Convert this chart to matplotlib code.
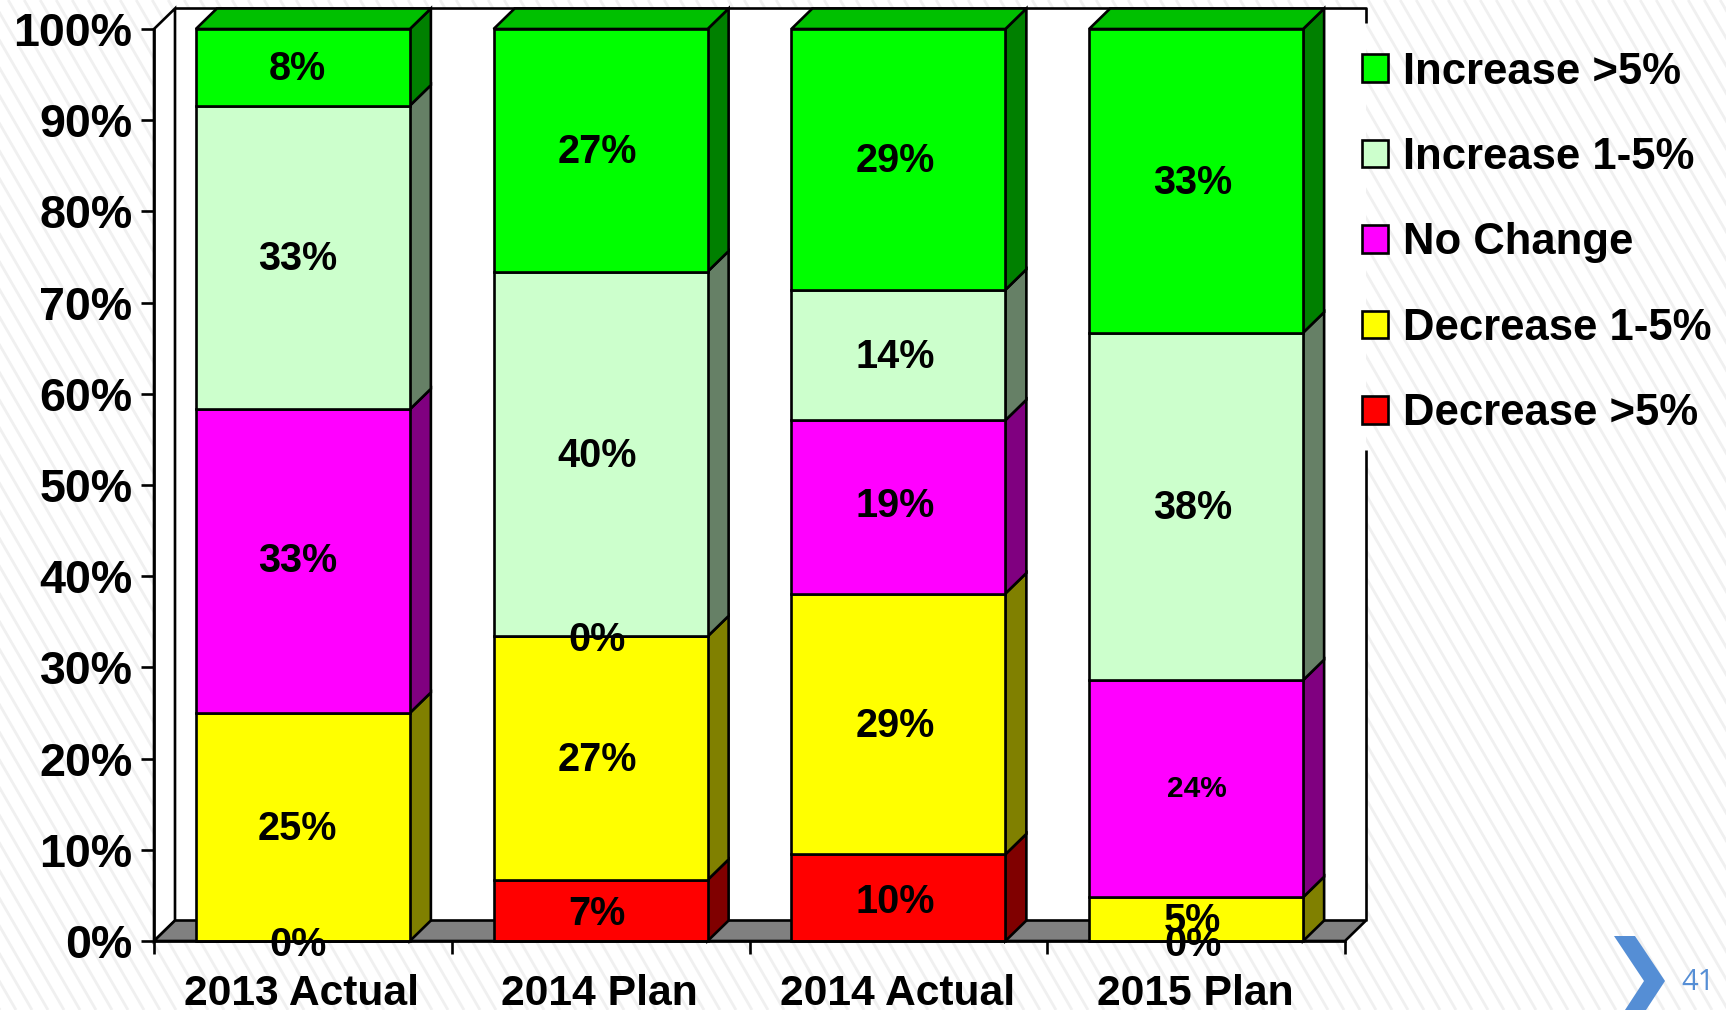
import matplotlib
matplotlib.use("Agg")
import matplotlib.pyplot as plt
from matplotlib.collections import LineCollection
from matplotlib.patches import Polygon

plt.rcParams['font.family'] = ['Liberation Sans', 'DejaVu Sans']
plt.rcParams['font.weight'] = 'bold'

categories = ["2013 Actual", "2014 Plan", "2014 Actual", "2015 Plan"]
series = ["Decrease >5%", "Decrease 1-5%", "No Change", "Increase 1-5%", "Increase >5%"]
dec_big = [0.0, 6.7, 9.5, 0.0]
dec_small = [25.0, 26.7, 28.6, 4.8]
no_change = [33.3, 0.0, 19.0, 23.8]
inc_small = [33.3, 40.0, 14.3, 38.1]
inc_big = [8.4, 26.6, 28.6, 33.3]
labels_dec_big = ["0%", "7%", "10%", "0%"]
labels_dec_small = ["25%", "27%", "29%", "5%"]
labels_no_change = ["33%", "0%", "19%", "24%"]
labels_inc_small = ["33%", "40%", "14%", "38%"]
labels_inc_big = ["8%", "27%", "29%", "33%"]
yticks = [0, 10, 20, 30, 40, 50, 60, 70, 80, 90, 100]

values = [dec_big, dec_small, no_change, inc_small, inc_big]
texts = [labels_dec_big, labels_dec_small, labels_no_change, labels_inc_small, labels_inc_big]
front = ['#FF0000', '#FFFF00', '#FF00FF', '#CCFFCC', '#00FF00']
side = ['#800000', '#808000', '#800080', '#668066', '#008000']
top_green = '#00C000'

W, H = 1726, 1010
L, R, T, B = 154, 1345, 29, 941
fig = plt.figure(figsize=(W / 100, H / 100), dpi=100, facecolor='white')

# Page background with fine diagonal stripes
bg = fig.add_axes([0, 0, 1, 1], zorder=0)
bg.set_axis_off()
bg.set_xlim(0, W)
bg.set_ylim(H, 0)
period, slope = 16.0, 1.73
stripes = []
x_start = -H / slope
while x_start < W:
    stripes.append([(x_start, 0), (x_start + H / slope, H)])
    x_start += period
bg.add_collection(LineCollection(stripes, colors='#f0f0f0', linewidths=2.0))

ax = fig.add_axes([L / W, 1 - B / H, (R - L) / W, (B - T) / H], zorder=1)
ax.patch.set_visible(False)
ax.set_xlim(-0.5, 3.5)
ax.set_ylim(0, 100)
dx = 21 / ((R - L) / 4)
dy = 20.5 / ((B - T) / 100)
barw = 214 / ((R - L) / 4)
lw = 1.9

# Chart walls and floor
ax.add_patch(Polygon([(-0.5 + dx, dy), (3.5 + dx, dy), (3.5 + dx, 100 + dy), (-0.5 + dx, 100 + dy)],
                     closed=True, fc='white', ec='none', clip_on=False, zorder=1))
ax.add_patch(Polygon([(-0.5, 0), (-0.5 + dx, dy), (-0.5 + dx, 100 + dy), (-0.5, 100)],
                     closed=True, fc='white', ec='black', lw=lw, clip_on=False, zorder=1))
ax.add_patch(Polygon([(-0.5, 0), (-0.5 + dx, dy), (3.5 + dx, dy), (3.5, 0)],
                     closed=True, fc='#808080', ec='black', lw=lw, clip_on=False, zorder=1))
ax.plot([-0.5 + dx, 3.5 + dx, 3.5 + dx], [100 + dy, 100 + dy, 98.4 + dy], color='black', lw=lw,
        clip_on=False, zorder=1, solid_capstyle='butt')
ax.plot([3.5 + dx, 3.5 + dx], [dy, 53.8], color='black', lw=lw, clip_on=False, zorder=1,
        solid_capstyle='butt')

# Stacked bars with depth
xs = range(len(categories))
bottoms = [0.0] * len(categories)
handles = []
for s, vals in enumerate(values):
    bars = ax.bar(xs, vals, width=barw, bottom=bottoms, color=front[s], edgecolor='black',
                  linewidth=lw, zorder=3, clip_on=False, label=series[s])
    handles.append(bars)
    for i, v in enumerate(vals):
        x1 = i + barw / 2
        b0 = bottoms[i]
        if v > 0:
            ax.add_patch(Polygon([(x1, b0), (x1 + dx, b0 + dy), (x1 + dx, b0 + v + dy), (x1, b0 + v)],
                                 closed=True, fc=side[s], ec='black', lw=lw, clip_on=False, zorder=2))
    bottoms = [b + v for b, v in zip(bottoms, vals)]

for i in xs:
    x0, x1 = i - barw / 2, i + barw / 2
    ax.add_patch(Polygon([(x0, 100), (x0 + dx, 100 + dy), (x1 + dx, 100 + dy), (x1, 100)],
                         closed=True, fc=top_green, ec='black', lw=lw, clip_on=False, zorder=2))

# Data labels
bottoms = [0.0] * len(categories)
for s, vals in enumerate(values):
    for i, v in enumerate(vals):
        small = texts[s][i] == "24%"
        off = 0.002 if small else (-0.018 if i == 0 else -0.012)
        lift = 0.32 if small else (0.0 if v == 0 or s == 0 else (0.5 if s == 2 else 0.22))
        ax.text(i + off, bottoms[i] + v / 2 + lift, texts[s][i], ha='center', va='center_baseline',
                fontsize=21.5 if small else 28.5, fontweight='bold', color='black', zorder=5, clip_on=False)
    bottoms = [b + v for b, v in zip(bottoms, vals)]

# Axes
for sp in ax.spines.values():
    sp.set_visible(False)
for name in ('bottom', 'left'):
    ax.spines[name].set_visible(True)
    ax.spines[name].set_linewidth(lw)
    ax.spines[name].set_zorder(4)
ax.set_yticks(yticks)
ax.set_yticklabels([f"{t}%" for t in yticks], fontsize=33.6, fontweight='bold')
ax.set_xticks([-0.5, 0.5, 1.5, 2.5, 3.5])
ax.set_xticklabels([])
ax.tick_params(axis='both', length=9.4, width=lw, color='black')
ax.tick_params(axis='y', pad=6)
for i, c in enumerate(categories):
    ax.annotate(c, (i - 0.004, 0), xytext=(0, -24), textcoords='offset points', ha='center', va='top',
                fontsize=30.7, fontweight='bold', annotation_clip=False)

# Legend
h = list(reversed(handles))
leg = ax.legend(h, [b.get_label() for b in h], loc='upper left', bbox_to_anchor=(1362 / W, 1 - 51.5 / H),
                bbox_transform=fig.transFigure, frameon=False, fontsize=31.4, handlelength=0.6,
                handleheight=0.6, handletextpad=0.35, labelspacing=1.02, borderpad=0, borderaxespad=0)

# Page furniture: chevron and slide number
bg.add_patch(Polygon([(1614, 936), (1635, 936), (1665, 981), (1646, 1010), (1625, 1010), (1644, 981)],
                     closed=True, fc='#558ED5', ec='none', zorder=3))
bg.text(1698, 982, "41", color='#558ED5', fontsize=21, ha='center', va='center',
        family='Open Sans', fontweight='normal')

fig.savefig('out.png', dpi=100, facecolor='white')
